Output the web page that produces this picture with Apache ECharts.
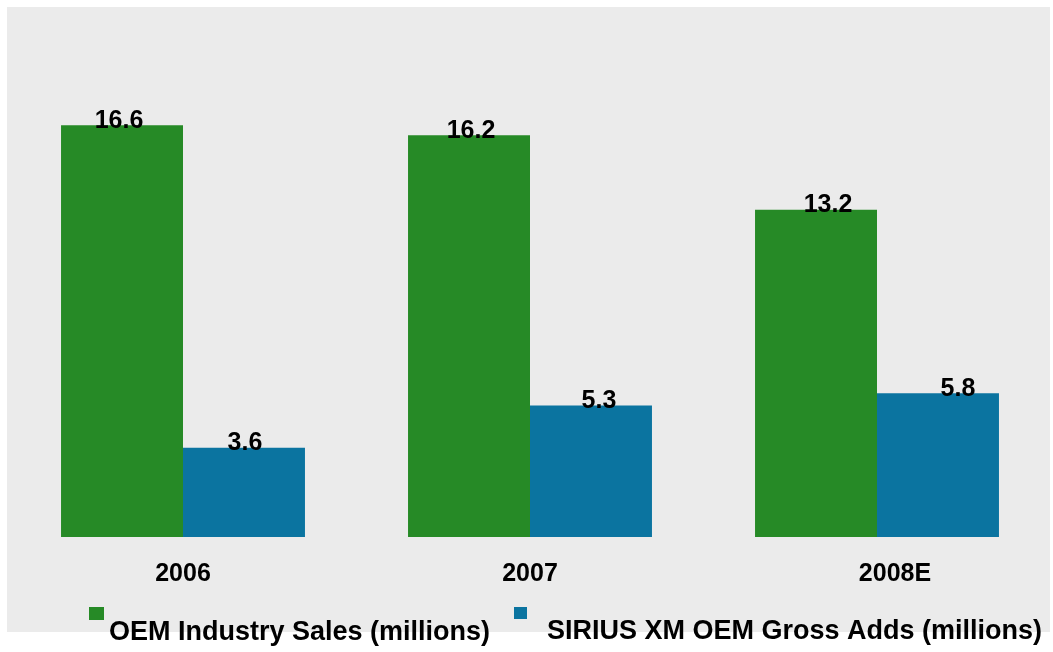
<!DOCTYPE html>
<html>
<head>
<meta charset="utf-8">
<script src="https://cdn.jsdelivr.net/npm/echarts@6/dist/echarts.min.js"></script>
<style>
  html, body { margin: 0; padding: 0; background: #ffffff; }
  #chart { width: 1053px; height: 652px; }
</style>
</head>
<body>
<div id="chart"></div>
<script>
// Years shown on the category axis
const years = ['2006', '2007', '2008E'];
// Series names
const seriesNames = ['OEM Industry Sales (millions)', 'SIRIUS XM OEM Gross Adds (millions)'];
// Values, in millions of units
const oemSales = [16.6, 16.2, 13.2];
const siriusAdds = [3.6, 5.3, 5.8];

const GREEN = '#268a26';
const BLUE = '#0b74a0';
const FONT = '"Liberation Sans", Arial, sans-serif';

// Small horizontal nudges of the value labels, per bar
const salesLabelShift = [-3, 2, 12];
const addsLabelShift = [1, 8, 20];

function withLabels(values, shifts) {
  return values.map((v, i) => ({ value: v, label: { offset: [shifts[i], 0] } }));
}

const valueLabel = {
  show: true,
  position: 'top',
  distance: -8,
  color: '#000',
  fontFamily: FONT,
  fontWeight: 'bold',
  fontSize: 25
};

// Legend text sits below its swatch: an empty first line pushes the name down
const LEGEND_LINE = 38;
const legendText = {
  color: '#000',
  fontFamily: FONT,
  fontWeight: 'bold',
  fontSize: 27,
  lineHeight: LEGEND_LINE
};

const chart = echarts.init(document.getElementById('chart'), null, { renderer: 'canvas' });

chart.setOption({
  backgroundColor: '#ffffff',
  animation: false,
  graphic: [{
    type: 'rect',
    z: -10,
    silent: true,
    shape: { x: 7, y: 7, width: 1043, height: 625 },
    style: { fill: '#ebebeb' }
  }],
  grid: { left: 9.5, right: 2.5, top: 41, bottom: 115 },
  xAxis: {
    type: 'category',
    data: years,
    axisLine: { show: false },
    axisTick: { show: false },
    axisLabel: {
      margin: 25,
      color: '#000',
      fontFamily: FONT,
      fontWeight: 'bold',
      fontSize: 25,
      formatter: v => v === '2008E' ? '{shift|' + v + '}' : v,
      rich: {
        shift: {
          padding: [0, 0, 0, 36],
          color: '#000',
          fontFamily: FONT,
          fontWeight: 'bold',
          fontSize: 25
        }
      }
    }
  },
  yAxis: {
    type: 'value',
    min: 0,
    max: 20,
    show: false,
    splitLine: { show: false }
  },
  legend: [{
    data: [seriesNames[0]],
    left: 89,
    top: 607 + 6.5 - LEGEND_LINE,
    padding: 0,
    icon: 'rect',
    itemWidth: 15,
    itemHeight: 13,
    formatter: n => '\n' + n,
    textStyle: legendText
  }, {
    data: [seriesNames[1]],
    left: 514,
    top: 607 + 6 - LEGEND_LINE,
    padding: 0,
    icon: 'rect',
    itemWidth: 13,
    itemHeight: 12,
    formatter: n => '\n  ' + n,
    textStyle: legendText
  }],
  series: [{
    name: seriesNames[0],
    type: 'bar',
    barGap: '0%',
    barCategoryGap: '29.7%',
    itemStyle: { color: GREEN },
    label: valueLabel,
    data: withLabels(oemSales, salesLabelShift)
  }, {
    name: seriesNames[1],
    type: 'bar',
    barGap: '0%',
    barCategoryGap: '29.7%',
    itemStyle: { color: BLUE },
    label: valueLabel,
    data: withLabels(siriusAdds, addsLabelShift)
  }]
});
</script>
</body>
</html>
